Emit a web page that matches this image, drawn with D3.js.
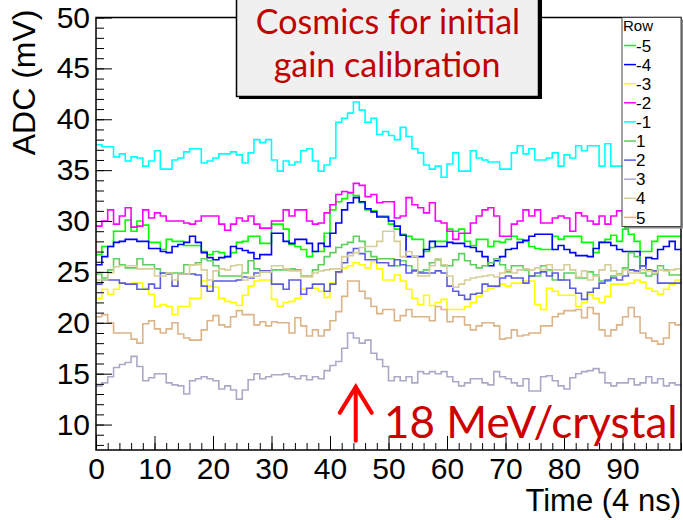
<!DOCTYPE html>
<html>
<head>
<meta charset="utf-8">
<script src="https://cdn.jsdelivr.net/npm/d3@7"></script>
<style>
  body { margin: 0; background: #fff; }
  svg { display: block; }
  .axis text { font-family: "Liberation Sans", Arial, sans-serif; fill: #000; }
  .axis path, .axis line { stroke: #000; }
</style>
</head>
<body>
<div id="chart"></div>
<script>
// bin values (100 bins of 4 ns), one array per row
var rowM5 = [26.7, 27.5, 27.5, 29.0, 29.0, 30.1, 29.0, 30.0, 29.6, 27.9,
             27.9, 27.2, 28.2, 28.0, 28.0, 27.6, 27.6, 27.6, 27.0, 26.7,
             27.0, 26.9, 26.5, 26.9, 27.9, 28.0, 28.5, 28.5, 27.8, 27.8,
             29.7, 29.7, 29.2, 27.7, 27.5, 27.2, 26.5, 27.0, 27.0, 28.8,
             31.1, 31.9, 32.2, 32.7, 32.5, 31.8, 31.1, 31.0, 30.5, 30.5,
             29.7, 29.2, 28.7, 28.5, 28.2, 28.2, 27.0, 27.4, 28.0, 28.0,
             29.2, 29.0, 29.2, 28.0, 27.6, 28.2, 28.2, 27.5, 28.0, 27.9,
             28.2, 28.5, 28.2, 28.0, 27.5, 27.3, 27.2, 27.2, 28.5, 28.2,
             28.5, 28.5, 28.5, 27.9, 27.9, 26.9, 27.9, 28.2, 28.6, 28.0,
             29.2, 28.7, 28.0, 27.0, 27.0, 28.0, 28.5, 28.5, 28.5, 28.5];
var rowM4 = [25.7, 26.5, 27.5, 27.9, 28.0, 28.2, 28.2, 28.0, 28.0, 27.3,
             27.3, 27.0, 26.9, 27.5, 27.7, 27.9, 28.5, 27.9, 26.9, 26.4,
             26.2, 26.4, 26.5, 27.5, 27.3, 27.1, 26.9, 26.3, 26.7, 26.7,
             28.8, 28.8, 28.0, 27.8, 28.2, 28.2, 27.8, 27.0, 27.8, 27.5,
             28.8, 29.8, 31.1, 31.8, 32.3, 31.9, 31.2, 30.9, 30.4, 30.4,
             30.0, 29.5, 28.6, 26.5, 26.5, 26.5, 27.2, 28.0, 27.5, 27.5,
             27.9, 27.8, 27.8, 27.5, 27.4, 27.0, 26.5, 25.6, 26.1, 26.5,
             27.2, 27.3, 27.9, 28.1, 28.5, 28.7, 28.7, 28.7, 27.2, 27.6,
             27.2, 26.9, 26.6, 26.6, 26.5, 27.3, 27.9, 27.9, 27.6, 27.2,
             27.0, 27.0, 27.0, 25.6, 26.4, 26.3, 27.2, 27.5, 28.0, 27.2];
var rowM3 = [22.4, 23.3, 22.8, 23.3, 23.9, 23.8, 23.9, 23.9, 23.4, 22.8,
             21.6, 21.8, 21.6, 20.8, 21.6, 21.6, 22.4, 22.4, 24.1, 23.6,
             23.5, 22.4, 22.1, 22.0, 21.7, 22.7, 23.6, 24.1, 24.2, 24.2,
             22.3, 21.6, 22.0, 22.1, 22.4, 23.3, 23.4, 23.4, 23.1, 22.5,
             23.9, 24.9, 25.4, 25.6, 25.9, 25.7, 25.4, 26.0, 25.3, 24.2,
             24.2, 24.7, 24.1, 23.3, 22.4, 21.8, 22.7, 21.7, 22.0, 22.3,
             21.3, 21.3, 21.3, 21.6, 22.0, 22.6, 23.1, 23.4, 23.5, 23.8,
             23.6, 23.9, 23.9, 24.1, 24.1, 21.8, 21.3, 23.4, 23.1, 22.7,
             22.7, 22.7, 21.6, 22.0, 22.8, 22.4, 22.0, 22.6, 23.8, 23.8,
             23.8, 23.9, 24.2, 24.0, 23.4, 23.1, 22.8, 23.3, 23.8, 24.2];
var rowM2 = [29.5, 30.0, 31.1, 29.7, 30.5, 31.3, 29.4, 29.5, 31.1, 30.3,
             30.8, 30.5, 30.0, 30.0, 30.0, 29.8, 29.7, 30.0, 30.5, 30.5,
             30.5, 29.7, 29.1, 29.7, 30.3, 30.0, 30.5, 29.7, 29.3, 29.3,
             30.0, 30.0, 31.1, 30.5, 31.1, 31.1, 30.0, 29.7, 29.8, 30.8,
             31.6, 32.6, 32.9, 32.8, 33.7, 33.5, 32.4, 32.6, 31.8, 31.9,
             31.9, 30.3, 30.5, 32.3, 31.6, 31.3, 30.8, 31.8, 30.0, 29.8,
             29.0, 28.2, 28.8, 28.8, 29.8, 30.5, 31.1, 31.3, 30.5, 28.5,
             28.5, 29.7, 30.0, 31.1, 30.5, 31.1, 29.8, 29.8, 30.3, 30.5,
             30.3, 29.0, 30.8, 30.5, 30.0, 29.7, 30.5, 29.7, 30.5, 31.0,
             30.6, 30.2, 30.8, 30.4, 31.0, 30.5, 30.7, 30.3, 30.9, 30.5];
var rowM1 = [37.5, 37.3, 37.3, 36.3, 36.6, 35.9, 36.3, 36.2, 35.4, 35.9,
             36.9, 35.1, 35.1, 36.0, 36.2, 36.8, 37.1, 37.1, 35.7, 35.9,
             36.2, 36.6, 36.6, 36.8, 36.5, 35.7, 36.7, 38.0, 37.7, 38.0,
             36.0, 34.9, 35.9, 35.5, 35.8, 36.9, 37.1, 35.9, 34.9, 35.5,
             36.2, 39.7, 40.1, 40.6, 41.7, 40.9, 39.7, 40.1, 38.5, 38.8,
             38.4, 38.0, 39.2, 38.3, 37.1, 36.7, 35.5, 35.1, 35.4, 34.3,
             35.6, 36.7, 34.9, 34.9, 36.9, 36.2, 36.0, 35.8, 35.8, 35.1,
             35.1, 36.7, 37.4, 36.6, 37.1, 36.0, 36.0, 36.2, 36.7, 35.4,
             36.5, 36.2, 37.4, 36.9, 37.4, 37.4, 35.4, 37.6, 35.4, 35.4,
             35.1, 35.6, 36.0, 36.3, 35.8, 36.1, 36.4, 35.9, 36.2, 36.0];
var rowP1 = [24.8, 24.4, 25.2, 26.3, 25.7, 25.4, 25.4, 26.3, 25.7, 25.7,
             25.3, 24.9, 24.9, 24.9, 24.9, 25.7, 25.7, 25.9, 26.3, 26.1,
             25.6, 24.6, 24.6, 24.6, 24.6, 24.9, 26.1, 25.3, 25.0, 25.0,
             25.2, 25.2, 25.2, 25.3, 25.2, 24.6, 24.6, 25.2, 25.7, 26.5,
             26.9, 27.4, 27.7, 27.9, 28.5, 28.0, 27.0, 26.5, 26.3, 26.3,
             26.3, 25.6, 26.1, 25.6, 25.2, 25.0, 25.2, 25.9, 26.2, 25.6,
             25.6, 26.2, 26.8, 26.1, 25.7, 25.4, 25.6, 25.9, 26.3, 25.7,
             25.0, 25.6, 25.6, 25.2, 24.6, 24.6, 25.6, 25.2, 24.2, 24.2,
             24.9, 24.9, 24.4, 24.4, 25.0, 24.7, 24.1, 24.1, 24.6, 24.8,
             25.4, 26.9, 26.5, 24.9, 24.6, 24.8, 25.6, 25.2, 24.7, 24.7];
var rowP2 = [23.8, 24.2, 24.2, 24.2, 23.9, 23.8, 23.8, 23.3, 23.3, 23.8,
             23.4, 24.9, 24.8, 23.6, 24.8, 24.8, 24.8, 24.7, 23.6, 23.1,
             24.1, 24.1, 24.1, 24.1, 24.2, 24.5, 24.4, 24.9, 25.1, 25.1,
             23.8, 23.8, 23.3, 24.2, 24.2, 22.8, 23.4, 23.8, 23.8, 23.1,
             23.8, 25.0, 25.9, 26.9, 27.3, 26.8, 26.2, 26.2, 25.9, 25.9,
             25.6, 26.2, 25.7, 24.9, 25.1, 24.9, 24.9, 24.9, 25.1, 24.9,
             23.6, 23.1, 22.7, 22.3, 22.8, 22.9, 23.8, 23.6, 23.6, 24.4,
             24.6, 24.4, 24.4, 23.9, 24.6, 24.9, 25.0, 24.6, 24.9, 24.2,
             24.2, 23.4, 22.9, 22.3, 23.0, 23.4, 23.9, 24.2, 24.4, 24.2,
             24.6, 25.2, 25.1, 25.6, 25.2, 25.1, 23.9, 23.9, 23.9, 23.9];
var rowP3 = [13.8, 14.1, 14.7, 15.6, 15.9, 16.1, 16.7, 15.7, 14.3, 14.6,
             15.0, 15.0, 14.1, 13.9, 13.8, 13.0, 14.3, 14.5, 14.7, 14.5,
             14.3, 13.5, 13.8, 13.4, 12.5, 13.4, 14.4, 15.0, 14.5, 14.7,
             14.9, 14.9, 15.0, 14.7, 14.5, 14.8, 14.4, 14.7, 14.5, 15.3,
             15.8, 16.2, 17.5, 19.0, 18.5, 18.0, 18.3, 17.0, 16.4, 15.7,
             14.3, 14.7, 14.3, 14.7, 14.1, 15.2, 15.0, 15.2, 15.0, 15.2,
             14.7, 14.2, 13.8, 14.1, 14.5, 14.5, 14.1, 13.9, 15.2, 14.7,
             14.5, 14.1, 13.8, 14.5, 13.3, 13.3, 14.7, 14.8, 14.3, 13.8,
             13.5, 14.6, 15.0, 15.2, 15.3, 15.5, 15.1, 14.1, 13.8, 14.1,
             14.1, 14.5, 13.9, 14.1, 14.7, 14.1, 14.5, 13.8, 14.1, 13.9];
var rowP4 = [24.2, 24.2, 24.9, 25.5, 25.6, 25.6, 25.6, 25.3, 25.3, 25.3,
             24.6, 24.6, 24.9, 24.2, 24.8, 24.8, 25.7, 25.7, 25.2, 24.2,
             25.1, 25.3, 25.2, 25.6, 25.7, 24.2, 24.5, 24.6, 25.0, 25.0,
             25.6, 25.6, 25.3, 25.1, 25.1, 24.5, 24.5, 24.9, 25.1, 25.2,
             25.3, 25.3, 26.5, 26.6, 26.9, 27.4, 27.5, 27.5, 28.0, 29.0,
             29.0, 28.0, 26.5, 27.0, 26.5, 24.6, 24.6, 25.6, 26.3, 25.7,
             24.6, 23.5, 23.8, 24.2, 24.4, 24.5, 24.6, 24.7, 24.5, 24.9,
             25.2, 24.9, 25.2, 25.3, 25.2, 25.4, 25.2, 25.7, 25.2, 25.2,
             25.7, 25.2, 24.5, 25.1, 24.2, 24.6, 25.2, 25.7, 25.1, 24.7,
             25.2, 24.9, 24.9, 25.2, 25.1, 24.9, 25.2, 25.1, 25.2, 25.3];
var rowP5 = [20.6, 20.8, 20.0, 19.0, 19.0, 19.0, 18.4, 18.0, 19.9, 20.2,
             19.4, 19.0, 19.4, 20.0, 18.9, 18.5, 18.3, 18.3, 19.3, 20.2,
             20.7, 19.8, 19.6, 20.6, 21.2, 20.8, 20.8, 19.8, 20.1, 19.7,
             20.1, 20.0, 20.0, 19.0, 20.5, 19.7, 18.7, 19.3, 18.7, 19.3,
             20.2, 21.1, 22.6, 24.1, 24.1, 23.1, 22.4, 21.6, 20.9, 21.3,
             21.3, 20.2, 20.7, 21.3, 20.6, 20.6, 20.6, 20.2, 21.6, 21.3,
             20.1, 20.6, 20.6, 19.8, 19.3, 19.7, 20.0, 20.0, 19.7, 18.4,
             18.5, 19.3, 18.7, 18.8, 19.0, 19.0, 19.7, 19.7, 20.6, 20.9,
             21.2, 21.2, 21.3, 20.5, 21.5, 20.9, 19.3, 18.7, 19.3, 19.8,
             20.6, 21.5, 20.6, 19.0, 18.5, 18.2, 17.9, 18.5, 20.0, 19.8];

var rowNames = ["-5", "-4", "-3", "-2", "-1", "1", "2", "3", "4", "5"];
var rowData = [rowM5, rowM4, rowM3, rowM2, rowM1, rowP1, rowP2, rowP3, rowP4, rowP5];
var rowColors = ["#00ff00", "#0000ff", "#ffff00", "#ff00ff", "#00ffff",
                 "#5ccf5c", "#5c5ce0", "#aaaac8", "#d6ce98", "#dcb488"];

var xTicks = [0, 10, 20, 30, 40, 50, 60, 70, 80, 90];
var yTicks = [10, 15, 20, 25, 30, 35, 40, 45, 50];

var width = 683, height = 520;
var plot = { left: 96, right: 681, top: 17.5, bottom: 450 };

var svg = d3.select("#chart").append("svg")
    .attr("width", width)
    .attr("height", height);

var x = d3.scaleLinear().domain([0, 100]).range([plot.left, plot.right]);
var y = d3.scaleLinear().domain([7.5, 50]).range([plot.bottom, plot.top]);

svg.append("clipPath").attr("id", "clip")
  .append("rect")
    .attr("x", plot.left).attr("y", plot.top)
    .attr("width", plot.right - plot.left).attr("height", plot.bottom - plot.top);

// histograms drawn as steps
var line = d3.line()
    .x(function (d) { return x(d[0]); })
    .y(function (d) { return y(d[1]); })
    .curve(d3.curveStepAfter);

var traces = svg.append("g").attr("clip-path", "url(#clip)");
rowData.forEach(function (vals, k) {
    var pts = vals.map(function (v, i) { return [i, v]; });
    pts.push([vals.length, vals[vals.length - 1]]);
    traces.append("path")
        .datum(pts)
        .attr("fill", "none")
        .attr("stroke", rowColors[k])
        .attr("stroke-width", 1.6)
        .attr("d", line);
});

// axes, ROOT style: ticks pointing into the frame
svg.append("g").attr("class", "axis")
    .attr("transform", "translate(" + plot.left + ",0)")
    .call(d3.axisLeft(y).tickValues(d3.range(8, 51)).tickSize(-8).tickFormat(""))
    .call(function (g) { g.select(".domain").remove(); });
svg.append("g").attr("class", "axis")
    .attr("transform", "translate(" + plot.left + ",0)")
    .call(d3.axisLeft(y).tickValues(yTicks).tickSize(-16).tickPadding(6))
    .call(function (g) {
        g.select(".domain").remove();
        g.selectAll("text").style("font-size", "30px");
    });

svg.append("g").attr("class", "axis")
    .attr("transform", "translate(0," + plot.bottom + ")")
    .call(d3.axisBottom(x).tickValues(d3.range(0, 101, 2)).tickSize(-7).tickFormat(""))
    .call(function (g) { g.select(".domain").remove(); });
svg.append("g").attr("class", "axis")
    .attr("transform", "translate(0," + plot.bottom + ")")
    .call(d3.axisBottom(x).tickValues(xTicks).tickSize(-14).tickPadding(8))
    .call(function (g) {
        g.select(".domain").remove();
        g.selectAll("text").style("font-size", "30px");
    });

// frame
svg.append("rect")
    .attr("x", plot.left).attr("y", plot.top)
    .attr("width", plot.right - plot.left).attr("height", plot.bottom - plot.top)
    .attr("fill", "none").attr("stroke", "#000").attr("stroke-width", 1.5);

// axis titles
svg.append("text")
    .attr("transform", "translate(35," + (plot.top - 8) + ") rotate(-90)")
    .attr("text-anchor", "end")
    .style("font-family", "Liberation Sans, Arial, sans-serif")
    .style("font-size", "32px")
    .text("ADC (mV)");
svg.append("text")
    .attr("x", plot.right).attr("y", 511)
    .attr("text-anchor", "end")
    .style("font-family", "Liberation Sans, Arial, sans-serif")
    .style("font-size", "31px")
    .text("Time (4 ns)");

// title box
svg.append("rect")
    .attr("x", 239).attr("y", -5).attr("width", 303).attr("height", 104)
    .attr("fill", "#000");
svg.append("rect")
    .attr("x", 236.5).attr("y", -5).attr("width", 302).attr("height", 101.5)
    .attr("fill", "#f0f0f0").attr("stroke", "#000").attr("stroke-width", 1.5);
svg.append("text")
    .attr("x", 388).attr("y", 34)
    .attr("text-anchor", "middle")
    .attr("fill", "#c00000")
    .style("font-family", "Lato, 'Open Sans', sans-serif")
    .style("font-size", "34px")
    .text("Cosmics for initial");
svg.append("text")
    .attr("x", 387).attr("y", 77)
    .attr("text-anchor", "middle")
    .attr("fill", "#c00000")
    .style("font-family", "Lato, 'Open Sans', sans-serif")
    .style("font-size", "34px")
    .text("gain calibration");

// arrow marking the cosmic peak
var arrowT = 44.4;
var ax = x(arrowT), tipY = y(13.7), baseY = y(8.4);
var arrow = svg.append("g")
    .attr("stroke", "#ff0000").attr("stroke-width", 4).attr("fill", "none")
    .attr("stroke-linecap", "round");
arrow.append("line").attr("x1", ax).attr("x2", ax).attr("y1", tipY).attr("y2", baseY);
arrow.append("path")
    .attr("d", "M" + (ax - 16) + "," + (tipY + 26) + "L" + ax + "," + tipY + "L" + (ax + 16) + "," + (tipY + 26));
svg.append("text")
    .attr("x", 384).attr("y", 438)
    .attr("fill", "#cc0000")
    .style("font-family", "Lato, 'Open Sans', sans-serif")
    .style("font-size", "44px")
    .text("18 MeV/crystal");

// legend
var leg = { x: 622, y: 17.5, w: 59, h: 209 };
svg.append("rect")
    .attr("x", leg.x + 2).attr("y", leg.y + 2).attr("width", leg.w).attr("height", leg.h)
    .attr("fill", "#888");
svg.append("rect")
    .attr("x", leg.x).attr("y", leg.y).attr("width", leg.w).attr("height", leg.h)
    .attr("fill", "#fff").attr("stroke", "#444").attr("stroke-width", 1);
svg.append("text")
    .attr("x", leg.x + 1).attr("y", leg.y + 13)
    .style("font-family", "Liberation Sans, Arial, sans-serif")
    .style("font-size", "15px")
    .text("Row");
var entry = svg.selectAll("g.entry")
    .data(rowNames)
    .enter().append("g")
    .attr("class", "entry")
    .attr("transform", function (d, i) { return "translate(" + leg.x + "," + (leg.y + 28 + i * 19.1) + ")"; });
entry.append("line")
    .attr("x1", 2).attr("x2", 14)
    .attr("stroke", function (d, i) { return rowColors[i]; })
    .attr("stroke-width", 1.5);
entry.append("text")
    .attr("x", 14).attr("dy", "0.36em")
    .style("font-family", "Liberation Sans, Arial, sans-serif")
    .style("font-size", "17px")
    .text(function (d) { return d; });
</script>
</body>
</html>
